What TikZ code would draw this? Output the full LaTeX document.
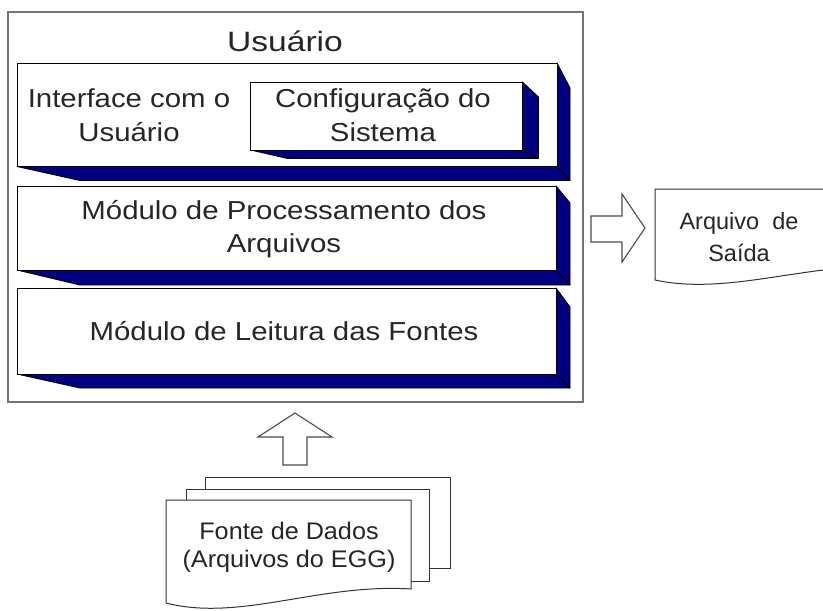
\documentclass[tikz,border=0pt]{standalone}
\usepackage{fontspec}
\setmainfont{Liberation Sans}
\newfontfamily\wideface[FakeStretch=1.13]{Liberation Sans}
\newfontfamily\titleface[FakeStretch=1.2]{Liberation Sans}
\newfontfamily\pageface[FakeStretch=1.05]{Liberation Sans}
\definecolor{navy}{RGB}{0,0,128}
\tikzset{
  facebox/.style={draw=black, fill=white, line width=0.9pt, inner sep=0pt, outer sep=0pt},
  sideface/.style={draw=black, fill=navy, line width=0.9pt, line join=round},
  frame/.style={draw=black!55, fill=white, line width=1.6pt},
  blockarrow/.style={draw=black!70, fill=white, line width=1.1pt, line join=miter},
  page/.style={draw=black!80, fill=white, line width=1pt},
  lbl/.style={inner sep=0pt, align=center, text=black!85},
  bigtext/.style={lbl, font=\wideface\fontsize{26}{33.4}\selectfont},
}
% extruded box: #1 name, (#2,#3) top-left, (#4,#5) bottom-right,
% #6 depth to the right, #7 depth downwards, #8 drop of the right face top,
% #9 run of the slanted left end of the bottom face
\newcommand\extrudedbox[9]{%
  \path[sideface] (#4,#3) -- (#4+#6,#3+#8) -- (#4+#6,#5+#7) -- (#4,#5) -- cycle;
  \path[sideface] (#2,#5) -- (#4,#5) -- (#4+#6,#5+#7) -- (#2+#9,#5+#7) -- cycle;
  \node[facebox, anchor=north west, minimum width={(#4-#2)*1pt},
        minimum height={(#5-#3)*1pt}] (#1) at (#2,#3) {};
}
\begin{document}
\begin{tikzpicture}[x=1pt,y=-1pt]
\useasboundingbox (0,0) rectangle (823,611);
\clip (0,0) rectangle (823,611);

% system frame
\draw[frame] (8,12) rectangle (583,402);
\node[lbl, font=\titleface\fontsize{28}{34}\selectfont, anchor=base] (usr) at (285,51) {Usuário};

% layers
\extrudedbox{iface}{17}{63}{557}{166.5}{13}{14}{25}{63}
\extrudedbox{cfg}{250.7}{82}{522.4}{150}{16}{8.3}{15}{36}
\extrudedbox{proc}{17}{186}{556}{270}{14}{15}{17}{63}
\extrudedbox{read}{17}{288}{556}{374}{14}{14}{19}{63}

\node[bigtext] (ifacetxt) at (129,115.4) {Interface com o\\Usuário};
\node[bigtext] (cfgtxt) at (383,115.4) {Configuração do\\Sistema};
\node[bigtext] (proctxt) at (284,229) {Módulo de Processamento dos\\Arquivos};
\node[bigtext, anchor=base] (readtxt) at (284,340) {Módulo de Leitura das Fontes};

% output file
\draw[page] (655,280) -- (655,189) -- (900,189) -- (900,266)
  .. controls (809,262) and (729,296) .. (655,280) -- cycle;
\node[lbl, font=\fontsize{23.5}{32}\selectfont] (outtxt) at (739,237.5) {Arquivo\ \ de\\Saída};

% output arrow
\draw[blockarrow] (591,216) -- (622,216) -- (622,194) -- (645,228)
  -- (622,262) -- (622,242) -- (591,242) -- cycle;

% source files
\draw[page] (205,477) rectangle (450,568);
\draw[page] (186,489) rectangle (429,581);
\draw[page] (166,603) -- (166,500) -- (411,500) -- (411,589)
  .. controls (320,583) and (240,622) .. (166,603) -- cycle;
\node[lbl, font=\pageface\fontsize{24}{28}\selectfont] (srctxt) at (289,547.5) {Fonte de Dados\\(Arquivos do EGG)};

% input arrow
\draw[blockarrow] (295,413) -- (332,437) -- (307,437) -- (307,465)
  -- (283,465) -- (283,437) -- (258,437) -- cycle;
\end{tikzpicture}
\end{document}
